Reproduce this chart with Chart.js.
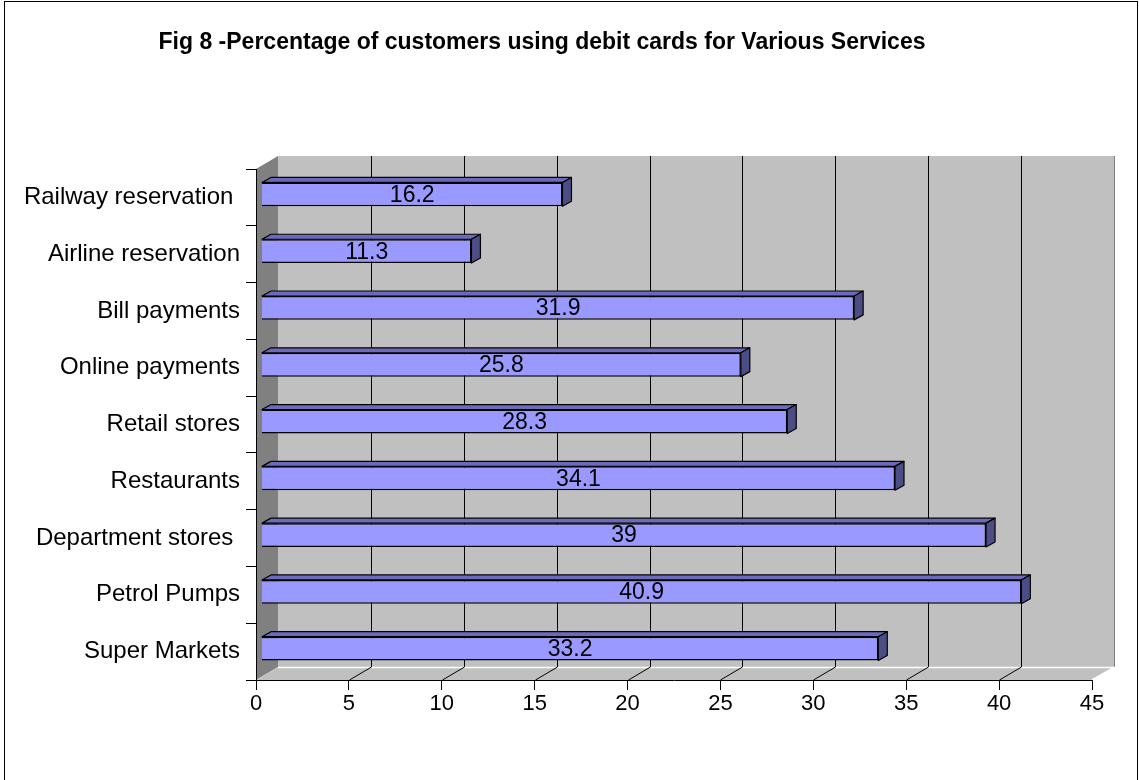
<!DOCTYPE html>
<html>
<head>
<meta charset="utf-8">
<script src="https://cdn.jsdelivr.net/npm/chart.js@4.4.1/dist/chart.umd.min.js"></script>
<style>
  body { margin: 0; background: #fff; }
  #chart { display: block; }
</style>
</head>
<body>
<canvas id="chart" width="1139" height="780"></canvas>
<script>
// data, top to bottom as in the figure
const categories = ["Railway reservation ", "Airline reservation", "Bill payments", "Online payments",
  "Retail stores", "Restaurants", "Department stores ", "Petrol Pumps", "Super Markets"];
const percentages = [16.2, 11.3, 31.9, 25.8, 28.3, 34.1, 39, 40.9, 33.2];
const xTicks = [0, 5, 10, 15, 20, 25, 30, 35, 40, 45];
const titleText = "Fig 8 -Percentage of customers using debit cards for Various Services";

// 3d look
const DEPTH_X = 22, DEPTH_Y = -13;   // wall depth
const BAR_SHIFT_X = 5.5, BAR_SHIFT_Y = -3;
const BAR_DX = 9, BAR_DY = -5;
const FONT = "'Liberation Sans', Arial, sans-serif";

Chart.defaults.font.family = FONT;
Chart.defaults.color = '#000';

const boxPlugin = {
  id: 'box3d',
  beforeDraw(chart) {
    const ctx = chart.ctx;
    const a = chart.chartArea;
    const xs = chart.scales.x;
    ctx.save();
    // outer frame
    ctx.strokeStyle = '#000';
    ctx.lineWidth = 1;
    ctx.strokeRect(4.5, 1.5, 1133, 820);
    // title
    ctx.font = 'bold 23px ' + FONT;
    ctx.textAlign = 'center';
    ctx.textBaseline = 'alphabetic';
    ctx.fillStyle = '#000';
    ctx.fillText(titleText, 542, 49);

    // back wall
    ctx.fillStyle = '#c0c0c0';
    ctx.fillRect(a.left + DEPTH_X, a.top + DEPTH_Y, a.right - a.left, a.bottom - a.top);
    ctx.strokeStyle = '#808080';
    ctx.beginPath();
    ctx.moveTo(a.right + DEPTH_X + 0.5, a.top + DEPTH_Y);
    ctx.lineTo(a.right + DEPTH_X + 0.5, a.bottom + DEPTH_Y);
    ctx.stroke();
    // side wall
    ctx.fillStyle = '#808080';
    ctx.beginPath();
    ctx.moveTo(a.left, a.top);
    ctx.lineTo(a.left + DEPTH_X, a.top + DEPTH_Y);
    ctx.lineTo(a.left + DEPTH_X, a.bottom + DEPTH_Y);
    ctx.lineTo(a.left, a.bottom);
    ctx.closePath();
    ctx.fill();
    // floor
    ctx.fillStyle = '#c0c0c0';
    ctx.beginPath();
    ctx.moveTo(a.left, a.bottom);
    ctx.lineTo(a.right, a.bottom);
    ctx.lineTo(a.right + DEPTH_X, a.bottom + DEPTH_Y);
    ctx.lineTo(a.left + DEPTH_X, a.bottom + DEPTH_Y);
    ctx.closePath();
    ctx.fill();
    ctx.strokeStyle = '#ffffff';
    ctx.lineWidth = 1.5;
    ctx.beginPath();
    ctx.moveTo(a.left + DEPTH_X, a.bottom + DEPTH_Y + 0.5);
    ctx.lineTo(a.right + DEPTH_X, a.bottom + DEPTH_Y + 0.5);
    ctx.lineTo(a.right, a.bottom);
    ctx.stroke();

    // gridlines on back wall and floor
    ctx.strokeStyle = '#000';
    ctx.lineWidth = 1;
    xTicks.forEach(v => {
      if (v <= 0 || v >= 45) return;
      const px = Math.round(xs.getPixelForValue(v)) + 0.5;
      ctx.beginPath();
      ctx.moveTo(px + DEPTH_X, a.top + DEPTH_Y);
      ctx.lineTo(px + DEPTH_X, a.bottom + DEPTH_Y);
      ctx.stroke();
      ctx.beginPath();
      ctx.moveTo(px, a.bottom);
      ctx.lineTo(px + DEPTH_X, a.bottom + DEPTH_Y);
      ctx.stroke();
    });
    ctx.restore();
  },
  beforeDatasetsDraw(chart) {
    chart.ctx.save();
    chart.ctx.translate(BAR_SHIFT_X, BAR_SHIFT_Y);
  },
  afterDatasetsDraw(chart) {
    const ctx = chart.ctx;
    const meta = chart.getDatasetMeta(0);
    ctx.lineWidth = 1.2;
    ctx.strokeStyle = '#000';
    ctx.lineJoin = 'round';
    meta.data.forEach((bar, i) => {
      const p = bar.getProps(['x', 'y', 'base', 'height'], true);
      const top = p.y - p.height / 2, bottom = p.y + p.height / 2;
      // top face
      ctx.fillStyle = '#6b6bbd';
      ctx.beginPath();
      ctx.moveTo(p.base, top);
      ctx.lineTo(p.base + BAR_DX, top + BAR_DY);
      ctx.lineTo(p.x + BAR_DX, top + BAR_DY);
      ctx.lineTo(p.x, top);
      ctx.closePath();
      ctx.fill();
      ctx.stroke();
      // side face
      ctx.fillStyle = '#4d4d85';
      ctx.beginPath();
      ctx.moveTo(p.x, top);
      ctx.lineTo(p.x + BAR_DX, top + BAR_DY);
      ctx.lineTo(p.x + BAR_DX, bottom + BAR_DY);
      ctx.lineTo(p.x, bottom);
      ctx.closePath();
      ctx.fill();
      ctx.stroke();
      // value label
      ctx.fillStyle = '#000';
      ctx.font = '23px ' + FONT;
      ctx.textAlign = 'center';
      ctx.textBaseline = 'middle';
      ctx.fillText(String(percentages[i]), (p.base + p.x) / 2, p.y + 1);
    });
    ctx.restore();
  }
};

new Chart(document.getElementById('chart'), {
  type: 'bar',
  data: {
    labels: categories,
    datasets: [{
      data: percentages,
      backgroundColor: '#9999ff',
      borderColor: '#000',
      borderWidth: 1.5,
      categoryPercentage: 1,
      barPercentage: 0.42
    }]
  },
  options: {
    indexAxis: 'y',
    responsive: false,
    animation: false,
    layout: { padding: { top: 169, right: 47, left: 0, bottom: 0 } },
    plugins: {
      legend: { display: false },
      tooltip: { enabled: false },
      title: { display: false }
    },
    scales: {
      x: {
        min: 0, max: 45,
        afterBuildTicks(scale) { scale.ticks = xTicks.map(v => ({ value: v })); },
        afterFit(scale) { scale.height = 100; },
        grid: { drawOnChartArea: false, drawTicks: true, tickLength: 10, color: '#000' },
        border: { display: true, color: '#000', width: 1 },
        ticks: { font: { size: 22 }, padding: 1, maxRotation: 0, color: '#000' }
      },
      y: {
        afterFit(scale) { scale.width = 256; },
        grid: { drawOnChartArea: false, drawTicks: true, tickLength: 10, color: '#000', offset: true },
        border: { display: true, color: '#000', width: 1 },
        ticks: { font: { size: 24 }, padding: 6, color: '#000' }
      }
    }
  },
  plugins: [boxPlugin]
});
</script>
</body>
</html>
